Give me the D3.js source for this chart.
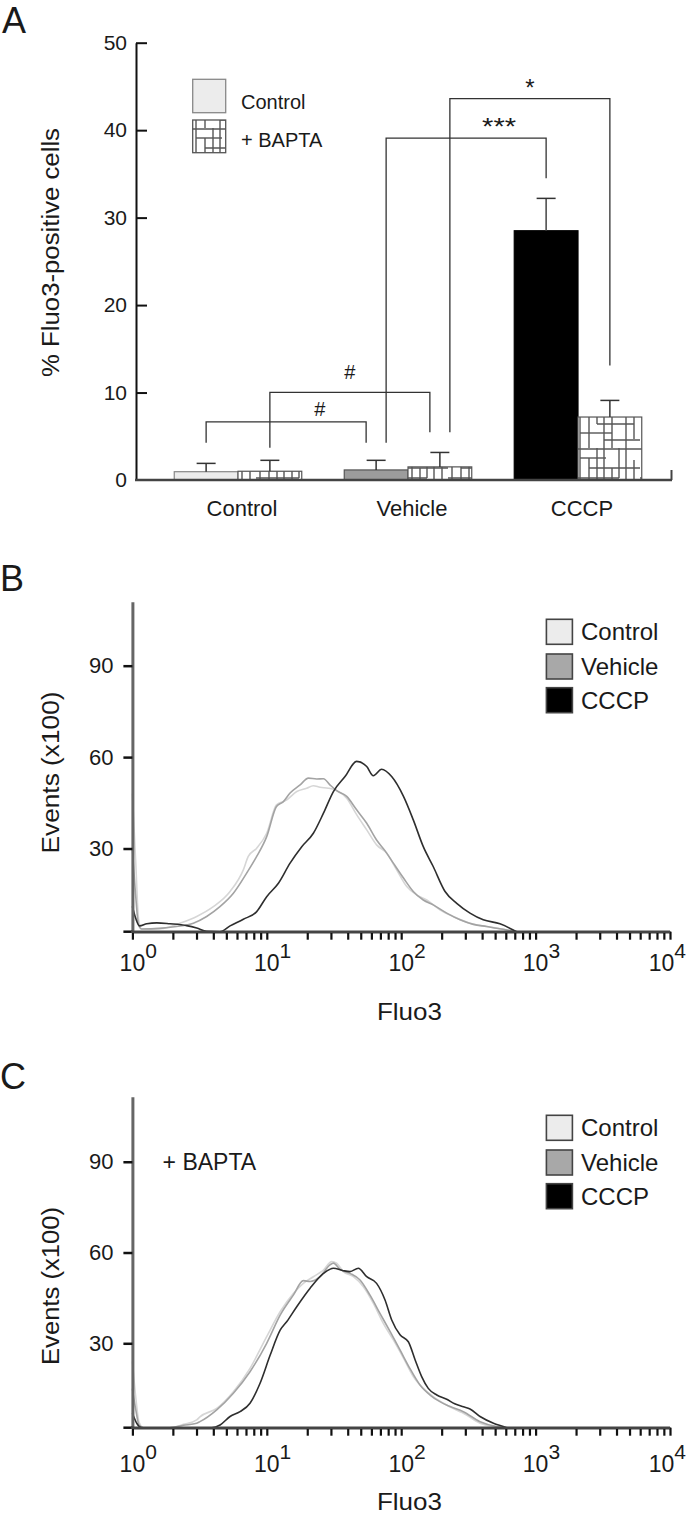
<!DOCTYPE html>
<html><head><meta charset="utf-8">
<script src="https://cdn.jsdelivr.net/npm/d3@7"></script>
<style>
body{margin:0;background:#fff}
svg{display:block}
text{font-family:"Liberation Sans",Arial,Helvetica,sans-serif;fill:#1a1a1a}
</style>
</head><body>
<svg id="chart" width="691" height="1516"></svg>
<script>
// ---------- Panel A data ----------
const groups = ["Control", "Vehicle", "CCCP"];
const treatments = ["Control", "+ BAPTA"];
const meanNoBapta = [0.95, 1.15, 28.5];
const meanBapta = [1.0, 1.5, 7.2];
const errNoBapta = [0.95, 1.1, 3.7];
const errBapta = [1.25, 1.65, 1.9];
const yTicksA = [0, 10, 20, 30, 40, 50];
// brackets: from group/sub, to group/sub, left leg bottom, top, right leg bottom (values), label, label baseline value
const bracketFrom = [[0,0],[0,1],[1,0],[1,1]];
const bracketTo = [[1,0],[1,1],[2,0],[2,1]];
const bracketLevels = [[4.27,6.64,4.27],[3.7,10.03,5.46],[4.27,39.1,34.5],[5.46,43.6,13.1]];
const bracketLabels = ["#", "#", "***", "*"];
const bracketLabelY = [7.32, 11.52, 39.4, 43.9];
const bracketLabelFrac = [0.71, 0.5, 0.706, 0.5];
const bracketNudge = [[0,-1],[0,-1],[1,0],[1,0]];

// ---------- Panels B / C data ----------
const seriesNames = ["Control", "Vehicle", "CCCP"];
const lineColors = ["#d6d6d6", "#a3a3a3", "#2e2e2e"];
const legendFills = ["#ececec", "#a8a8a8", "#000000"];
const yTicksHist = [30, 60, 90];
const xDecades = [0, 1, 2, 3, 4];

const histB_control = [[1,48],[1.06,25],[1.11,7],[1.17,3.6],[1.70,3.8],[2.26,5.5],[3.01,7.7],[4.0,10.9],[5.33,15.9],[6.69,23.0],[7.28,27.4],[8.41,30.1],[9.98,35.0],[11.8,44.3],[14.1,46.0],[16.7,48.7],[19.8,49.8],[22.2,50.6],[24.9,50.1],[28.7,49.8],[33.1,49.0],[39.3,46.5],[46.6,41.1],[55.4,36.1],[65.6,31.2],[77.9,28.5],[92.5,23.0],[110,17.5],[130,14.8],[155,13.1],[194,9.9],[244,7.7],[325,5.5],[432,4.4],[575,3.5],[682,2.7]];
const histB_vehicle = [[1,30],[1.06,14],[1.11,5],[1.17,3.6],[1.60,3.8],[2.13,4.4],[2.84,5.5],[3.57,7.7],[4.48,10.9],[5.64,15.3],[7.08,21.9],[8.41,27.4],[9.98,33.9],[11.8,43.8],[13.3,45.4],[14.9,48.2],[17.7,50.9],[20.4,53.1],[23.5,52.8],[26.4,52.9],[29.5,50.9],[33.1,49.0],[39.3,47.1],[46.6,42.7],[55.4,38.3],[65.6,32.8],[75.7,29.3],[87.4,25.2],[104,20.3],[123,15.9],[146,13.1],[173,11.5],[218,8.8],[274,6.6],[344,5.1],[432,4.4],[575,3.5],[722,2.7]];
const histB_cccp = [[1,11],[1.06,7],[1.13,4.6],[1.28,5.3],[1.52,5.6],[1.90,5.3],[2.53,4.7],[3.01,3.9],[3.57,2.8],[4.48,2.7],[5.33,4.6],[6.69,6.8],[8.41,9.3],[9.98,14.2],[12.2,18.6],[14.9,25.2],[18.2,30.6],[22.2,35.0],[26.4,41.6],[31.3,48.7],[38.2,53.6],[46.6,58.6],[55.4,56.9],[62.0,53.9],[71.5,56.0],[84.9,53.6],[104,47.1],[123,39.4],[146,30.6],[173,24.1],[212,15.9],[259,12.0],[325,8.8],[408,6.6],[543,5.3],[722,2.7]];

const histC_control = [[1,24],[1.06,12],[1.12,4],[1.21,2.1],[1.90,2.1],[2.4,3.2],[3.01,4.7],[3.18,5.7],[4.24,8.5],[5.64,14.0],[7.50,21.7],[9.98,32.2],[12.6,40.5],[15.8,46.5],[18.7,49.8],[22.2,52.0],[26.4,54.2],[30.4,57.0],[33.1,56.5],[37.1,53.7],[44.1,52.0],[52.3,48.7],[62.1,43.2],[73.6,36.6],[87.4,31.1],[104,25.1],[123,19.0],[146,15.1],[173,12.4],[218,9.6],[274,7.4],[290,6.9],[386,3.6],[486,2.5],[575,2.1]];
const histC_vehicle = [[1,15],[1.06,8],[1.12,3],[1.21,2.1],[1.90,2.1],[2.4,2.9],[3.01,3.6],[3.18,4.1],[4.24,8.0],[5.64,13.5],[7.50,20.6],[9.98,30.0],[12.6,39.4],[15.8,46.0],[18.7,50.7],[21.0,50.4],[24.9,52.0],[29.5,55.9],[31.3,56.5],[35.1,54.4],[41.6,53.1],[49.4,50.9],[58.6,45.9],[69.5,39.9],[82.6,33.9],[98.0,27.8],[116,21.7],[138,16.2],[164,12.9],[194,10.7],[231,9.1],[290,7.4],[386,4.1],[513,2.5],[645,2.1]];
const histC_cccp = [[1,6.9],[1.08,3.5],[1.17,2.1],[3.89,2.1],[4.49,3.0],[5.33,5.8],[6.32,7.4],[7.50,10.2],[8.91,16.8],[10.6,26.1],[12.6,34.4],[14.1,37.2],[16.7,42.1],[21.0,48.2],[26.4,53.1],[31.3,54.8],[37.1,54.0],[41.6,53.7],[48.0,54.8],[55.4,52.0],[65.6,49.8],[75.8,44.3],[85.0,37.7],[98.0,32.8],[113,30.5],[127,24.5],[142,19.0],[159,15.1],[184,12.9],[218,11.5],[250,10.0],[290,9.0],[325,8.3],[386,5.8],[486,3.6],[575,2.5],[609,2.1]];

// ---------- drawing ----------
const svg = d3.select("#chart");
const defs = svg.append("defs");

// maze-like hatch pattern for BAPTA bars
const pat = defs.append("pattern").attr("id","maze").attr("patternUnits","userSpaceOnUse")
  .attr("width",64).attr("height",64);
pat.append("rect").attr("width",64).attr("height",64).attr("fill","#fff");
const mazeV = [[4,0,64],[13,10,64],[21,0,40],[28,0,64],[36,20,64],[43,0,30],[50,0,64],[58,12,55]];
const mazeH = [[1,0,64],[10,4,30],[20,13,64],[30,0,43],[40,21,58],[49,4,36],[56,28,64]];
mazeV.forEach(v=>pat.append("line").attr("x1",v[0]).attr("x2",v[0]).attr("y1",v[1]).attr("y2",v[2]).attr("stroke","#555").attr("stroke-width",1.4));
mazeH.forEach(h=>pat.append("line").attr("y1",h[0]).attr("y2",h[0]).attr("x1",h[1]).attr("x2",h[2]).attr("stroke","#555").attr("stroke-width",1.4));

// ===== Panel A =====
const gA = svg.append("g");
const x0 = d3.scaleBand().domain(groups).range([153, 663]).paddingInner(0.25).paddingOuter(0.125);
const x1 = d3.scaleBand().domain(treatments).range([0, x0.bandwidth()]);
const yA = d3.scaleLinear().domain([0, 50]).range([480, 42.7]);

gA.append("text").attr("x",2).attr("y",33).attr("font-size",36).text("A");

const barRows = groups.map((g,i)=>[
  {g, t:treatments[0], v:meanNoBapta[i], e:errNoBapta[i], gi:i, ti:0},
  {g, t:treatments[1], v:meanBapta[i], e:errBapta[i], gi:i, ti:1}
]).flat();
const groupFill = ["#ececec", "#9c9c9c", "#000"];
const groupStroke = ["#888", "#555", "#000"];
const barX = (gi,ti)=> x0(groups[gi]) + x1(treatments[ti]);
const barC = (gi,ti)=> barX(gi,ti) + x1.bandwidth()/2;

gA.selectAll("rect.bar").data(barRows).join("rect")
  .attr("x", d=>barX(d.gi,d.ti)).attr("width", x1.bandwidth())
  .attr("y", d=>yA(d.v)).attr("height", d=>yA(0)-yA(d.v))
  .attr("fill", d=> d.ti===1 ? "url(#maze)" : groupFill[d.gi])
  .attr("stroke", d=> d.ti===1 ? "#555" : groupStroke[d.gi]).attr("stroke-width",1.2);

// error bars
const eb = gA.selectAll("g.eb").data(barRows).join("g");
eb.append("line").attr("x1",d=>barC(d.gi,d.ti)).attr("x2",d=>barC(d.gi,d.ti))
  .attr("y1",d=>yA(d.v)).attr("y2",d=>yA(d.v+d.e)).attr("stroke",d=>d.gi===2&&d.ti===0?"#444":"#333").attr("stroke-width",1.5);
eb.append("line").attr("x1",d=>barC(d.gi,d.ti)-9.5).attr("x2",d=>barC(d.gi,d.ti)+9.5)
  .attr("y1",d=>yA(d.v+d.e)).attr("y2",d=>yA(d.v+d.e)).attr("stroke","#333").attr("stroke-width",1.5);

// axes A
const axA = gA.append("g").attr("transform",`translate(136,0)`)
  .call(d3.axisLeft(yA).tickValues(yTicksA).tickSize(-11).tickSizeOuter(0).tickPadding(9));
axA.select(".domain").attr("stroke","#111").attr("stroke-width",2);
axA.selectAll(".tick line").attr("stroke","#111").attr("stroke-width",2);
axA.selectAll(".tick text").attr("font-size",21).attr("fill","#1a1a1a").attr("font-family",'"Liberation Sans",Arial,sans-serif');
axA.selectAll(".tick").filter(d=>d===0).select("line").remove();

gA.append("line").attr("x1",135).attr("x2",672).attr("y1",yA(0)).attr("y2",yA(0)).attr("stroke","#444").attr("stroke-width",2.5);
gA.append("line").attr("x1",671.5).attr("x2",671.5).attr("y1",yA(0)).attr("y2",yA(0)-10).attr("stroke","#444").attr("stroke-width",2);

const axAx = gA.append("g").attr("transform",`translate(0,${yA(0)})`)
  .call(d3.axisBottom(x0).tickSize(0).tickPadding(20.4));
axAx.select(".domain").remove();
axAx.selectAll(".tick text").attr("font-size",22).attr("fill","#1a1a1a").attr("font-family",'"Liberation Sans",Arial,sans-serif')
  .attr("dx", 4);

gA.append("text").attr("transform","translate(58.5,252.5) rotate(-90)").attr("text-anchor","middle")
  .attr("font-size",23).attr("textLength",249).attr("lengthAdjust","spacingAndGlyphs").text("% Fluo3-positive cells");

// brackets
brackets();
function brackets(){
  bracketFrom.forEach((f,i)=>{
    const t = bracketTo[i], lv = bracketLevels[i];
    const xl = barC(f[0],f[1]) + bracketNudge[i][0]*10;
    const xr = barC(t[0],t[1]) + bracketNudge[i][1]*10;
    gA.append("path")
      .attr("d",`M${xl},${yA(lv[0])}V${yA(lv[1])}H${xr}V${yA(lv[2])}`)
      .attr("fill","none").attr("stroke","#333").attr("stroke-width",1.3);
    const lab = bracketLabels[i];
    gA.append("text").attr("x", xl + (xr-xl)*bracketLabelFrac[i]).attr("y", yA(bracketLabelY[i]))
      .attr("text-anchor","middle").attr("font-size", lab==="#"?20:24)
      .attr("textLength", lab==="***"?34:null).attr("lengthAdjust","spacingAndGlyphs")
      .text(lab);
  });
}

// legend A
const legA = gA.append("g");
legA.append("rect").attr("x",192.7).attr("y",79.3).attr("width",33).attr("height",33.4)
  .attr("fill","#ececec").attr("stroke","#888").attr("stroke-width",1.3);
legA.append("rect").attr("x",192.7).attr("y",120).attr("width",33).attr("height",32.7)
  .attr("fill","url(#maze)").attr("stroke","#555").attr("stroke-width",1.3);
legA.append("text").attr("x",241).attr("y",108.7).attr("font-size",20).text(treatments[0]);
legA.append("text").attr("x",241).attr("y",147).attr("font-size",20).text(treatments[1]);

// ===== Panels B and C =====
const xLog = d3.scaleLog().domain([1, 1e4]).range([132.4, 670]);
const panels = [
  {letter:"B", letterY:591, base:931.7, top:601.7, yMin:2.7, yMax:111,
   data:[histB_control, histB_vehicle, histB_cccp], yLabelCY:772.5, yLabelLen:162, decOff:39, xLabOff:88.3, note:null},
  {letter:"C", letterY:1089, base:1427.7, top:1096.7, yMin:2.1, yMax:111.5,
   data:[histC_control, histC_vehicle, histC_cccp], yLabelCY:1286, yLabelLen:158, decOff:44, xLabOff:82.3, note:"+ BAPTA"}
];

panels.forEach(p=>{
  const g = svg.append("g");
  const y = d3.scaleLinear().domain([p.yMin, p.yMax]).range([p.base, p.top]).clamp(true);
  g.append("text").attr("x",0).attr("y",p.letterY).attr("font-size",36).text(p.letter);

  // curves
  const line = d3.line().x(d=>xLog(d[0])).y(d=>y(d[1])).curve(d3.curveMonotoneX);
  p.data.forEach((s,i)=>{
    g.append("path").attr("d", line(s)).attr("fill","none")
      .attr("stroke", lineColors[i]).attr("stroke-width", 1.6).attr("stroke-linejoin","round");
  });

  // y axis
  const ay = g.append("g").attr("transform","translate(132.4,0)")
    .call(d3.axisLeft(y).tickValues(yTicksHist).tickSize(9).tickSizeOuter(0).tickPadding(10));
  ay.select(".domain").attr("stroke","#666").attr("stroke-width",3);
  ay.selectAll(".tick line").attr("stroke","#111").attr("stroke-width",2.5);
  ay.selectAll(".tick text").attr("font-size",22).attr("fill","#1a1a1a").attr("font-family",'"Liberation Sans",Arial,sans-serif');
  g.append("line").attr("x1",123.4).attr("x2",132.4).attr("y1",p.base).attr("y2",p.base).attr("stroke","#111").attr("stroke-width",2.5);

  // x axis
  const ax = g.append("g").attr("transform",`translate(0,${p.base})`)
    .call(d3.axisBottom(xLog).tickValues(xLog.ticks()).tickSize(8).tickSizeOuter(0).tickFormat(""));
  ax.select(".domain").attr("stroke","#444").attr("stroke-width",2.5);
  ax.selectAll(".tick line").attr("stroke","#111").attr("stroke-width",2.2);
  g.append("line").attr("x1",130.9).attr("x2",670).attr("y1",p.base).attr("y2",p.base).attr("stroke","#444").attr("stroke-width",2.5);

  // decade labels 10^n
  xDecades.forEach(n=>{
    const tx = g.append("text").attr("y", p.base + p.decOff).attr("font-size",23);
    const t10 = tx.append("tspan").text("10");
    tx.append("tspan").attr("dy",-12.5).attr("font-size",21).text(n);
    const w10 = t10.node().getComputedTextLength();
    const wAll = tx.node().getComputedTextLength();
    let start = xLog(Math.pow(10,n)) - w10/2;
    if (start + wAll > 686) start = 686 - wAll;
    tx.attr("x", start);
  });

  // axis titles
  g.append("text").attr("x",409.4).attr("y",p.base + p.xLabOff).attr("text-anchor","middle")
    .attr("font-size",24).attr("textLength",65).attr("lengthAdjust","spacingAndGlyphs").text("Fluo3");
  g.append("text").attr("transform",`translate(58.7,${p.yLabelCY}) rotate(-90)`).attr("text-anchor","middle")
    .attr("font-size",23).attr("textLength",p.yLabelLen).attr("lengthAdjust","spacingAndGlyphs").text("Events (x100)");

  // legend
  const legOff = [-312.4, -277.7, -244];
  seriesNames.forEach((nm,i)=>{
    g.append("rect").attr("x",546.4).attr("y",p.base+legOff[i]).attr("width",26).attr("height",25)
      .attr("fill",legendFills[i]).attr("stroke","#444").attr("stroke-width",1.6);
    g.append("text").attr("x",581).attr("y",p.base+legOff[i]+12.5+8.6).attr("font-size",24).text(nm);
  });

  if (p.note) g.append("text").attr("x",162.6).attr("y",p.base-257.7).attr("font-size",23).text(p.note);
});
</script>
</body></html>
